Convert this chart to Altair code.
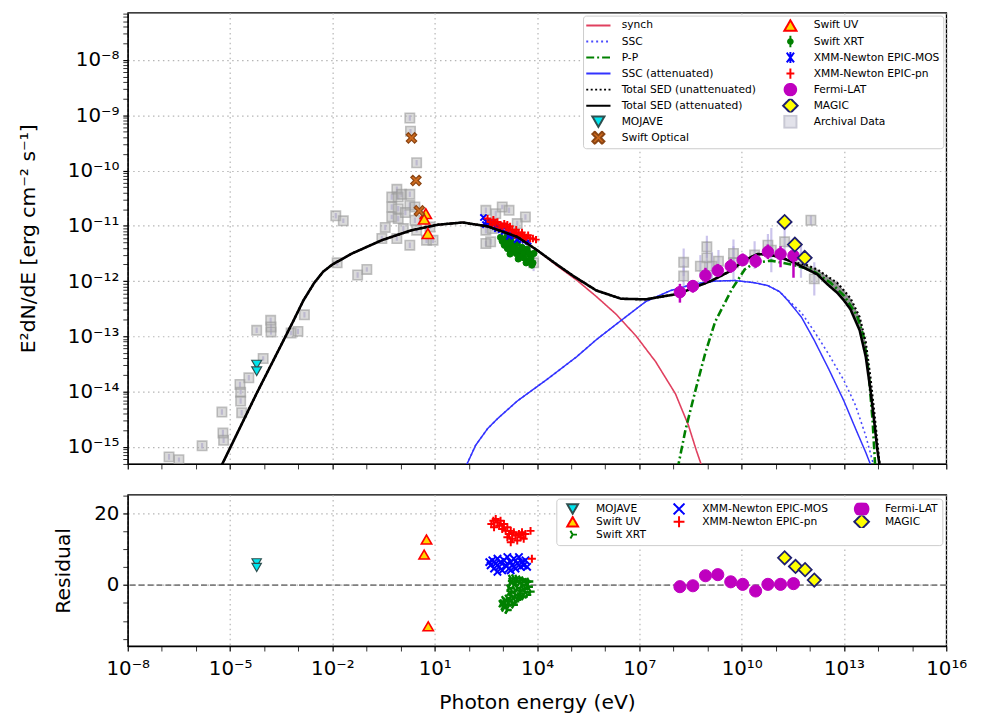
import json
import numpy as np
import pandas as pd
import altair as alt

# ---------------- model curves: log10(E / eV), log10(E^2 dN/dE / erg cm^-2 s^-1) ----------------
synch_logE = [-5.30, -4.22, -3.16, -2.85, -2.53, -2.27, -2.00, -1.42, -0.55, 0.32, 1.10, 1.82, 2.55, 3.42,
              4.00, 4.58, 5.16, 5.74, 6.32, 6.90, 7.48, 8.06, 8.44, 8.67, 8.86]
synch_logF = [-15.40, -14.03, -12.74, -12.35, -12.03, -11.83, -11.70, -11.50, -11.26, -11.08, -10.98,
              -10.94, -11.01, -11.20, -11.44, -11.72, -11.98, -12.28, -12.60, -12.99, -13.46, -14.04,
              -14.61, -15.06, -15.40]

ssc_logE = [1.88, 2.20, 2.55, 2.84, 3.42, 4.29, 5.16, 5.74, 6.47, 7.19, 7.92, 8.64, 9.22, 9.80, 10.38,
            10.76, 11.11, 11.34, 11.75, 12.12, 12.56, 13.00, 13.34, 13.64, 13.90]
ssc_logF = [-15.40, -14.97, -14.67, -14.49, -14.17, -13.78, -13.37, -13.06, -12.71, -12.37, -12.17,
            -12.05, -12.00, -11.99, -12.03, -12.08, -12.19, -12.33, -12.57, -12.90, -13.33, -13.80,
            -14.25, -14.80, -15.40]

ssc_att_logE = [1.88, 2.20, 2.55, 2.84, 3.42, 4.29, 5.16, 5.74, 6.47, 7.19, 7.92, 8.64, 9.22, 9.80,
                10.38, 10.76, 11.11, 11.34, 11.75, 12.12, 12.56, 13.00, 13.34, 13.64, 13.83]
ssc_att_logF = [-15.40, -14.97, -14.67, -14.49, -14.17, -13.78, -13.37, -13.06, -12.71, -12.37, -12.17,
                -12.05, -12.00, -11.99, -12.03, -12.08, -12.19, -12.34, -12.65, -13.06, -13.60, -14.17,
                -14.67, -15.10, -15.40]

pp_logE = [8.12, 8.35, 8.64, 8.93, 9.22, 9.71, 10.09, 10.38, 10.87, 11.45, 12.03, 12.61, 13.00, 13.38,
           13.58, 13.72, 13.84, 13.92]
pp_logF = [-15.40, -14.70, -13.99, -13.31, -12.74, -12.15, -11.79, -11.67, -11.63, -11.70, -11.79,
           -12.03, -12.26, -12.62, -13.01, -13.63, -14.53, -15.40]

tot_att_logE = [-5.30, -4.22, -3.16, -2.85, -2.53, -2.27, -2.00, -1.42, -0.55, 0.32, 1.10, 1.82, 2.55,
                3.42, 4.00, 4.58, 5.07, 5.74, 6.47, 7.19, 8.15, 9.13, 9.66, 10.09, 10.47, 10.87, 11.26,
                11.55, 11.90, 12.22, 12.50, 12.80, 13.00, 13.19, 13.46, 13.64, 13.78, 13.90, 13.98, 14.06]
tot_att_logF = [-15.40, -14.03, -12.74, -12.35, -12.03, -11.83, -11.70, -11.50, -11.26, -11.08, -10.98,
                -10.94, -11.01, -11.20, -11.44, -11.70, -11.91, -12.17, -12.32, -12.33, -12.23, -11.99,
                -11.82, -11.62, -11.51, -11.53, -11.60, -11.67, -11.78, -11.88, -12.05, -12.21, -12.35,
                -12.51, -12.89, -13.37, -13.99, -14.61, -15.06, -15.40]

tot_unatt_logE = [-5.30, -4.22, -3.16, -2.85, -2.53, -2.27, -2.00, -1.42, -0.55, 0.32, 1.10, 1.82, 2.55,
                  3.42, 4.00, 4.58, 5.07, 5.74, 6.47, 7.19, 8.15, 9.13, 9.66, 10.09, 10.47, 10.87, 11.26,
                  11.55, 11.90, 12.22, 12.50, 12.80, 13.00, 13.19, 13.46, 13.64, 13.78, 13.90, 14.06]
tot_unatt_logF = [-15.40, -14.03, -12.74, -12.35, -12.03, -11.83, -11.70, -11.50, -11.26, -11.08, -10.98,
                  -10.94, -11.01, -11.20, -11.44, -11.70, -11.91, -12.17, -12.32, -12.33, -12.23, -11.99,
                  -11.82, -11.62, -11.51, -11.53, -11.59, -11.66, -11.71, -11.79, -11.91, -12.03, -12.17,
                  -12.31, -12.65, -13.11, -13.76, -14.44, -15.40]

fill_logE = [11.26, 11.55, 11.90, 12.22, 12.50, 12.80, 13.00, 13.19, 13.46, 13.64, 13.78, 13.90, 14.06]
fill_lo = [-11.60, -11.67, -11.78, -11.88, -12.05, -12.21, -12.35, -12.51, -12.89, -13.37, -13.99, -14.61, -15.40]
fill_hi = [-11.59, -11.66, -11.71, -11.79, -11.91, -12.03, -12.17, -12.31, -12.65, -13.11, -13.76, -14.44, -15.40]

# ---------------- observed SED points ----------------
mojave_logE = [-4.22, -4.22]
mojave_logF = [-13.51, -13.63]
optical_logE = [0.32, 0.45, 0.55]
optical_logF = [-9.41, -10.18, -10.73]
uv_logE = [0.74, 0.69, 0.80]
uv_logF = [-10.78, -10.88, -11.14]
fermi_logE = [8.19, 8.57, 8.94, 9.30, 9.68, 10.03, 10.41, 10.77, 11.14, 11.52]
fermi_logF = [-12.20, -12.09, -11.90, -11.81, -11.73, -11.62, -11.64, -11.47, -11.51, -11.54]
fermi_lo = [-12.39, -12.21, -12.03, -11.92, -11.85, -11.73, -11.76, -11.60, -11.75, -11.94]
fermi_hi = [-12.05, -11.98, -11.76, -11.69, -11.60, -11.50, -11.51, -11.34, -11.37, -11.37]
magic_logE = [11.26, 11.56, 11.85]
magic_logF = [-10.93, -11.34, -11.58]

xrt_logE = [2.93, 2.98, 3.04, 3.10, 3.13, 3.19, 3.24, 3.27, 3.33, 3.39, 3.42, 3.48, 3.53, 3.56, 3.62,
            3.65, 3.71, 3.74, 3.80, 3.82, 3.88, 3.91, 3.01, 3.19, 3.36, 3.59, 3.77, 3.07, 3.30, 3.51,
            3.68, 3.45, 3.85, 3.21, 3.13, 3.36]
xrt_logF = [-11.21, -11.28, -11.35, -11.25, -11.41, -11.32, -11.28, -11.46, -11.37, -11.50, -11.32,
            -11.44, -11.53, -11.39, -11.58, -11.48, -11.42, -11.64, -11.53, -11.58, -11.67, -11.50,
            -11.25, -11.42, -11.42, -11.50, -11.50, -11.32, -11.39, -11.57, -11.67, -11.60, -11.71,
            -11.51, -11.16, -11.18]
pn_logE = [2.55, 2.63, 2.72, 2.78, 2.84, 2.93, 2.98, 3.04, 3.10, 3.16, 3.21, 3.27, 3.33, 3.39, 3.45,
           3.51, 3.56, 3.62, 3.68, 3.74, 3.80, 3.88, 3.97, 2.69, 2.90, 3.13, 3.36, 3.59]
pn_logF = [-10.87, -10.93, -10.89, -10.96, -10.93, -10.98, -11.01, -10.96, -11.03, -11.07, -11.01,
           -11.09, -11.12, -11.07, -11.14, -11.17, -11.12, -11.19, -11.21, -11.17, -11.23, -11.23,
           -11.25, -10.98, -11.03, -10.98, -11.17, -11.23]
mos_logE = [2.43, 2.52, 2.61, 2.69, 2.78, 2.87, 2.95, 3.04, 3.13, 3.21, 3.30, 3.39, 3.48, 3.56, 3.65,
            3.74, 2.49, 2.84, 3.19, 3.42]
mos_logF = [-10.85, -10.93, -10.96, -10.94, -11.01, -11.00, -11.07, -11.10, -11.09, -11.14, -11.17,
            -11.16, -11.21, -11.25, -11.26, -11.28, -10.98, -11.05, -11.19, -11.25]

arch_logE = [-6.79, -6.50, -5.82, -5.24, -5.21, -5.19, -4.71, -4.69, -4.69, -4.66, -4.45, -4.03, -4.22,
             -3.81, -3.80, -3.80, -3.21, -3.01, -2.82,
             -1.90, -1.68, -1.86, -1.26, -0.99, -0.55, -0.45, -0.26, -0.26, -0.26, -0.11, -0.07, -0.07,
             -0.07, -0.11, 0.03, 0.27, 0.29, 0.47, 0.27, 0.27, 0.42, 0.42, 0.27, 0.47, 0.76, 0.95, 0.86,
             0.14, 0.08,
             2.50, 2.79, 2.98, 3.18, 3.66, 2.50, 2.50, 2.64, 3.90, 3.42, 2.69,
             8.30, 8.30, 8.98, 8.98, 8.79, 9.13, 9.32, 9.76, 9.76, 10.77, 10.87, 11.26, 12.03, 12.13,
             11.74, 10.38]
arch_logF = [-15.18, -15.23, -14.98, -14.37, -14.75, -14.88, -13.87, -14.01, -14.17, -14.38, -13.75,
             -13.40, -12.89, -12.71, -12.83, -12.92, -12.94, -12.91, -12.61,
             -10.82, -10.91, -11.67, -11.89, -11.79, -11.23, -11.03, -10.84, -10.66, -10.48, -10.34,
             -10.48, -10.69, -10.87, -11.23, -10.43, -9.05, -9.29, -9.86, -10.43, -10.63, -10.66,
             -10.90, -11.35, -11.08, -11.26, -11.26, -11.02, -10.76, -11.05,
             -10.72, -10.78, -10.66, -10.72, -10.84, -11.08, -11.32, -11.29, -11.67, -10.96, -11.05,
             -11.66, -11.91, -11.38, -11.58, -11.73, -11.73, -11.64, -11.50, -11.67, -11.35, -11.44,
             -11.29, -10.90, -11.96, -11.64, -11.53]
arch_err = [0.05, 0.04, 0.05, 0.05, 0.06, 0.05, 0.05, 0.04, 0.05, 0.05, 0.05, 0.04, 0.05, 0.05, 0.06,
            0.05, 0.04, 0.05, 0.05,
            0.05, 0.04, 0.05, 0.05, 0.04, 0.05, 0.05, 0.04, 0.05, 0.05, 0.05, 0.04, 0.05, 0.05, 0.04,
            0.05, 0.05, 0.04, 0.05, 0.05, 0.05, 0.04, 0.05, 0.05, 0.04, 0.05, 0.05, 0.04, 0.05, 0.05,
            0.05, 0.05, 0.04, 0.05, 0.05, 0.06, 0.05, 0.05, 0.15, 0.05, 0.05,
            0.25, 0.20, 0.20, 0.30, 0.20, 0.25, 0.20, 0.25, 0.30, 0.20, 0.40, 0.35, 0.08, 0.30, 0.30, 0.25]

# ---------------- residuals ----------------
res_mojave_logE = [-4.22, -4.22]
res_mojave = [6.2, 4.9]
res_uv_logE = [0.76, 0.69, 0.81]
res_uv = [12.7, 8.5, -11.5]
res_pn_logE = [2.66, 2.72, 2.79, 2.84, 2.89, 2.74, 2.93, 2.98, 3.03, 3.08, 3.13, 3.18, 3.23, 3.27, 3.32,
               3.37, 3.42, 3.47, 3.52, 3.56, 3.61, 3.23, 3.13, 3.66, 3.81, 3.85]
res_pn = [17.0, 17.9, 18.4, 17.4, 16.5, 16.1, 17.9, 15.6, 17.0, 15.1, 16.1, 14.2, 15.1, 12.9, 14.7,
          13.8, 12.4, 14.2, 13.3, 14.7, 12.9, 11.9, 13.3, 14.2, 15.1, 7.35]
res_mos_logE = [2.60, 2.64, 2.69, 2.74, 2.79, 2.84, 2.89, 2.93, 2.98, 3.03, 3.08, 3.13, 3.18, 3.23, 3.27,
                3.32, 3.37, 3.42, 3.47, 3.52, 3.56, 3.61, 3.66, 3.71, 2.84, 3.23]
res_mos = [6.4, 5.5, 6.9, 4.6, 6.0, 7.35, 5.1, 6.4, 4.1, 6.9, 5.5, 7.8, 4.6, 6.4, 5.5, 7.35, 4.6, 6.0,
           7.8, 5.1, 6.4, 5.5, 6.9, 5.1, 3.7, 4.1]
res_xrt_logE = [3.23, 3.32, 3.42, 3.52, 3.61, 3.71, 3.76, 3.81, 3.71, 3.61, 3.52, 3.42, 3.32, 3.23, 3.18,
                3.27, 3.37, 3.47, 3.23, 3.13, 3.03, 2.98, 3.08, 3.18, 3.27, 3.03, 3.13, 3.32, 3.42, 3.66,
                3.56, 3.47, 3.37,
                3.24, 3.42, 3.59, 3.71, 3.53, 3.36, 3.19, 3.65, 3.48, 3.30, 3.07, 3.19, 3.01, 3.13, 3.36,
                2.95, 3.59, 3.77]
res_xrt = [1.84, 2.0, 1.84, 1.65, 1.38, 0.92, -0.46, -1.84, -2.75, -3.2, -2.3, -0.9, 0.0, 0.46, -0.9,
           -1.84, -2.75, -3.66, -3.2, -3.66, -4.1, -5.0, -5.5, -4.6, -5.0, -6.4, -6.9, -5.5, -4.1, -0.9,
           0.0, 0.46, 0.92,
           1.0, 1.2, 0.8, -0.5, -1.5, -1.5, -2.0, -2.0, -3.0, -3.5, -4.5, -5.5, -6.0, -7.0, -4.5,
           -5.2, -1.0, 1.0]
res_fermi_logE = [8.19, 8.57, 8.94, 9.30, 9.68, 10.03, 10.41, 10.77, 11.14, 11.52]
res_fermi = [-0.45, -0.2, 2.6, 2.9, 0.9, 0.2, -1.65, 0.2, 0.2, 0.4]
res_magic_logE = [11.26, 11.58, 11.86, 12.13]
res_magic = [7.6, 5.2, 4.3, 1.4]

# ---------------- helpers ----------------
FONT = "DejaVu Sans"
SUP = str.maketrans("-0123456789", "\u207b\u2070\u00b9\u00b2\u00b3\u2074\u2075\u2076\u2077\u2078\u2079")


def pow_label(e):
    return "10" + str(e).translate(SUP)


EXP = "round(log(datum.value)/LN10)"
LAB_FS = 20

x_exps = list(range(-8, 17))
x_vals = [10.0 ** e for e in x_exps]
x_labels = [pow_label(e) if (e + 8) % 3 == 0 else "" for e in x_exps]
x_major = f"({EXP}+8) % 3 == 0"
x_label_expr = f"{json.dumps(x_labels, ensure_ascii=False)}[{EXP}+8]"

Y_MIN, Y_MAX = 10 ** -15.308, 10 ** -7.144
y_exps = list(range(-16, -6))
y_vals = [m * 10.0 ** e for e in y_exps for m in range(1, 10) if Y_MIN <= m * 10.0 ** e <= Y_MAX]
y_labels = [pow_label(e) for e in y_exps]
y_major = f"abs(log(datum.value)/LN10 - {EXP}) < 0.001"
y_label_expr = f"{y_major} ? {json.dumps(y_labels, ensure_ascii=False)}[{EXP}+16] : ''"

XS = alt.Scale(type="log", domain=[1e-8, 1e16], nice=False)
YS_TOP = alt.Scale(type="log", domain=[Y_MIN, Y_MAX], nice=False)
YS_BOT = alt.Scale(domain=[-17.0, 25.2], nice=False, zero=False)


def cond(test, a, b):
    return {"condition": {"test": test, "value": a}, "value": b}


X_AXIS_TOP = alt.Axis(values=x_vals, labels=False, title=None,
                      gridOpacity=cond(x_major, 1, 0), tickWidth=cond(x_major, 1.2, 0.8))
X_AXIS_BOT = alt.Axis(values=x_vals, labelExpr=x_label_expr, title="Photon energy (eV)",
                      labelFlush=False, labelOverlap=False, labelPadding=8, titlePadding=14,
                      labelFontSize=cond(x_major, LAB_FS, 0),
                      gridOpacity=cond(x_major, 1, 0), tickWidth=cond(x_major, 1.2, 0.8))
Y_AXIS_TOP = alt.Axis(values=y_vals, labelExpr=y_label_expr, labelOverlap=False, labelFlush=False,
                      title="E\u00b2dN/dE [erg cm\u207b\u00b2 s\u207b\u00b9]", titlePadding=29,
                      labelFontSize=cond(y_major, LAB_FS, 0),
                      gridOpacity=cond(y_major, 1, 0), tickWidth=cond(y_major, 1.2, 0.8))
b_major = "datum.value == 0 || datum.value == 20"
Y_AXIS_BOT = alt.Axis(values=[-15, -10, -5, 0, 5, 10, 15, 20, 25],
                      labelExpr=f"{b_major} ? datum.label : ''", labelOverlap=False, labelFlush=False,
                      title="Residual", titlePadding=20,
                      labelFontSize=cond(b_major, LAB_FS, 0),
                      gridOpacity=cond(b_major, 1, 0), tickWidth=cond(b_major, 1.2, 0.8))

# marker paths (unit box [-1, 1])
LINE = "M-2,0L2,0"
X_PATH = "M-1,-1L1,1M-1,1L1,-1"
PLUS_PATH = "M-1,0L1,0M0,-1L0,1"
TRI_RIGHT = "M0,0L1,0M0,0L-0.5,-0.866M0,0L-0.5,0.866"
XFILL = "M-1,-0.6L-0.6,-1L0,-0.4L0.6,-1L1,-0.6L0.4,0L1,0.6L0.6,1L0,0.4L-0.6,1L-1,0.6L-0.4,0Z"
XRT_LEG = "M0,-0.95L0,0.95M-0.38,0A0.38,0.38,0,1,1,0.38,0A0.38,0.38,0,1,1,-0.38,0Z"
MOS_LEG = "M-0.6,-0.8L0.6,0.8M-0.6,0.8L0.6,-0.8M0,-0.9L0,0.9"
PN_LEG = "M-0.65,0L0.65,0M0,-0.85L0,0.85"
CIRC_T = "M-0.95,0A0.95,0.95,0,1,1,0.95,0A0.95,0.95,0,1,1,-0.95,0Z"
DIAM_T = "M0,-1.2L1.2,0L0,1.2L-1.2,0Z"
CIRC_B = "M-1.25,0A1.25,1.25,0,1,1,1.25,0A1.25,1.25,0,1,1,-1.25,0Z"
DIAM_B = "M0,-1.35L1.35,0L0,1.35L-1.35,0Z"
TRI_B = "M0,0L0.8,0M0,0L-0.4,-0.7M0,0L-0.4,0.7"
SOLID = [1, 0]

# ---------------- legend definitions ----------------
# top legend: entries in their column-wise reading order (2 columns, 8 rows)
TOP_ORDER = ["synch", "SSC", "P-P", "SSC (attenuated)", "Total SED (unattenuated)", "Total SED (attenuated)",
             "MOJAVE", "Swift Optical", "Swift UV", "Swift XRT", "XMM-Newton EPIC-MOS", "XMM-Newton EPIC-pn",
             "Fermi-LAT", "MAGIC", "Archival Data"]
TOP_STROKE = ["#E0405F", "#4A4AFF", "#008000", "#3333FF", "#000000", "#000000", "#2F4F4F", "#8B4513",
              "#FF0000", "#008000", "#0000FF", "#FF0000", "#BF00BF", "#1F1F6F", "#C8C8D4"]
TOP_FILL = ["transparent", "transparent", "transparent", "transparent", "transparent", "transparent",
            "#00E5EE", "#CD6A1E", "#FFD700", "#008000", "transparent", "transparent", "#BF00BF",
            "#FFFF00", "#E2E2EA"]
TOP_SHAPE = [LINE, LINE, LINE, LINE, LINE, LINE, "triangle-down", XFILL, "triangle-up", XRT_LEG, MOS_LEG,
             PN_LEG, CIRC_T, DIAM_T, "square"]
TOP_DASH = [SOLID, [2, 3], [8, 3, 2, 3], SOLID, [2, 2.5], SOLID, SOLID, SOLID, SOLID, SOLID, SOLID, SOLID,
            SOLID, SOLID, SOLID]

# bottom legend: order chosen so that the 3-column legend reads
# MOJAVE | XMM-MOS | Fermi-LAT / Swift UV | XMM-pn | MAGIC / Swift XRT
BOT_ORDER = ["MOJAVE", "Swift UV", "MAGIC", "XMM-Newton EPIC-MOS", "XMM-Newton EPIC-pn", "Swift XRT",
             "Fermi-LAT"]
BOT_STROKE = ["#2F4F4F", "#FF0000", "#1F1F6F", "#0000FF", "#FF0000", "#008000", "#BF00BF"]
BOT_FILL = ["#00E5EE", "#FFD700", "#FFFF00", "transparent", "transparent", "transparent", "#BF00BF"]
BOT_SHAPE = ["triangle-down", "triangle-up", DIAM_B, X_PATH, PLUS_PATH, TRI_B, CIRC_B]
BOT_DASH = [SOLID, SOLID, SOLID, SOLID, SOLID, SOLID, SOLID]


def legend_def(columns, size, clip_h, row_pad, col_pad, sym_off, lab_off, offset, padding):
    return alt.Legend(
        title=None, orient="top-right", offset=offset, columns=columns, padding=padding,
        fillColor="white", strokeColor="#cccccc", cornerRadius=3,
        labelFont=FONT, labelFontSize=10.8, labelColor="black", labelLimit=400, labelOffset=lab_off,
        symbolSize=size, symbolOffset=sym_off, symbolStrokeWidth=2, symbolFillColor="transparent",
        symbolOpacity=1, clipHeight=clip_h, rowPadding=row_pad, columnPadding=col_pad)


TOP_LEGEND = legend_def(2, 150, 14, 2.2, 22, 5, 16, 3, 3)
BOT_LEGEND = legend_def(3, 120, 12.8, 0, 20.5, 6, 17, 4, 4)


def frame(logE, vals, series, logvals=True, **extra):
    d = {"E": np.power(10.0, np.array(logE, dtype=float)),
         "V": np.power(10.0, np.array(vals, dtype=float)) if logvals else np.array(vals, dtype=float),
         "series": series}
    for k, v in extra.items():
        d[k] = np.power(10.0, np.array(v, dtype=float))
    return pd.DataFrame(d)


def enc_set(order, stroke, fill, shape, dash, legend):
    def s(channel):
        rng = {"stroke": stroke, "fill": fill, "shape": shape, "strokeDash": dash}[channel]
        cls = {"stroke": alt.Stroke, "fill": alt.Fill, "shape": alt.Shape, "strokeDash": alt.StrokeDash}[channel]
        return cls("series:N", scale=alt.Scale(domain=order, range=rng), legend=legend)
    return s


top_ch = enc_set(TOP_ORDER, TOP_STROKE, TOP_FILL, TOP_SHAPE, TOP_DASH, TOP_LEGEND)
bot_ch = enc_set(BOT_ORDER, BOT_STROKE, BOT_FILL, BOT_SHAPE, BOT_DASH, BOT_LEGEND)


def xt():
    return alt.X("E:Q", scale=XS, axis=X_AXIS_TOP)


def yt(field="V"):
    return alt.Y(f"{field}:Q", scale=YS_TOP, axis=Y_AXIS_TOP)


def xb():
    return alt.X("E:Q", scale=XS, axis=X_AXIS_BOT)


def yb(field="V"):
    return alt.Y(f"{field}:Q", scale=YS_BOT, axis=Y_AXIS_BOT)


# ---------------- top panel ----------------
magic_df = frame(magic_logE, magic_logF, "MAGIC")
# legend-carrying layer (draws no marks itself)
top_key = alt.Chart(magic_df).transform_filter("false").mark_point(filled=True, clip=True).encode(
    x=xt(), y=yt(), stroke=top_ch("stroke"), fill=top_ch("fill"), shape=top_ch("shape"),
    strokeDash=top_ch("strokeDash"))

arch_df = frame(arch_logE, arch_logF, "Archival Data",
                lo=[f - e for f, e in zip(arch_logF, arch_err)],
                hi=[f + e for f, e in zip(arch_logF, arch_err)])
arch_err_layer = alt.Chart(arch_df).mark_rule(color="#A89CE0", opacity=0.6, strokeWidth=2.2, clip=True).encode(
    x=xt(), y=yt("lo"), y2="hi")
arch_pts = alt.Chart(arch_df).mark_point(shape="square", filled=True, fill="#ADADAD", fillOpacity=0.45,
                                         stroke="#9A9A9A", strokeOpacity=0.6, strokeWidth=1.6, size=90,
                                         opacity=1, clip=True).encode(x=xt(), y=yt())

fill_df = frame(fill_logE, fill_lo, "fill", hi=fill_hi)
fill_layer = alt.Chart(fill_df).mark_area(color="#7F7F7F", opacity=0.85, clip=True).encode(
    x=xt(), y=yt("V"), y2="hi")

xrt_pts = alt.Chart(frame(xrt_logE, xrt_logF, "Swift XRT")).mark_point(
    shape="circle", filled=True, size=40, strokeWidth=1, opacity=1, clip=True).encode(
    x=xt(), y=yt(), stroke=top_ch("stroke"), fill=top_ch("fill"))
mos_pts = alt.Chart(frame(mos_logE, mos_logF, "XMM-Newton EPIC-MOS")).mark_point(
    shape=X_PATH, filled=False, size=40, strokeWidth=2, opacity=1, clip=True).encode(
    x=xt(), y=yt(), stroke=top_ch("stroke"))
pn_pts = alt.Chart(frame(pn_logE, pn_logF, "XMM-Newton EPIC-pn")).mark_point(
    shape=PLUS_PATH, filled=False, size=55, strokeWidth=2, opacity=1, clip=True).encode(
    x=xt(), y=yt(), stroke=top_ch("stroke"))


def line(logE, logF, series, width):
    return alt.Chart(frame(logE, logF, series)).mark_line(strokeWidth=width, clip=True).encode(
        x=xt(), y=yt(), stroke=top_ch("stroke"), strokeDash=top_ch("strokeDash"))


synch_l = line(synch_logE, synch_logF, "synch", 1.6)
ssc_l = line(ssc_logE, ssc_logF, "SSC", 1.6)
pp_l = line(pp_logE, pp_logF, "P-P", 2.6)
ssc_att_l = line(ssc_att_logE, ssc_att_logF, "SSC (attenuated)", 1.5)
tot_un_l = line(tot_unatt_logE, tot_unatt_logF, "Total SED (unattenuated)", 2.2)
tot_att_l = line(tot_att_logE, tot_att_logF, "Total SED (attenuated)", 2.6)

fermi_df = frame(fermi_logE, fermi_logF, "Fermi-LAT", lo=fermi_lo, hi=fermi_hi)
fermi_err = alt.Chart(fermi_df).mark_rule(color="#BF00BF", strokeWidth=2.5, clip=True).encode(
    x=xt(), y=yt("lo"), y2="hi")


def pts(df, shape, size, width):
    return alt.Chart(df).mark_point(shape=shape, filled=True, size=size, strokeWidth=width, opacity=1,
                                    clip=True).encode(x=xt(), y=yt(), stroke=top_ch("stroke"),
                                                      fill=top_ch("fill"))


fermi_pts = pts(fermi_df, "circle", 135, 1)
magic_pts = pts(magic_df, "diamond", 200, 1.8)
uv_pts = pts(frame(uv_logE, uv_logF, "Swift UV"), "triangle-up", 130, 1.6)
opt_pts = pts(frame(optical_logE, optical_logF, "Swift Optical"), XFILL, 110, 1.2)
moj_pts = pts(frame(mojave_logE, mojave_logF, "MOJAVE"), "triangle-down", 100, 1.2)

top = alt.layer(top_key, arch_err_layer, arch_pts, fill_layer, xrt_pts, mos_pts, pn_pts,
                synch_l, ssc_l, pp_l, ssc_att_l, tot_un_l, tot_att_l,
                fermi_err, fermi_pts, magic_pts, uv_pts, opt_pts, moj_pts).properties(width=827, height=456)

# ---------------- residual panel ----------------
bot_key = alt.Chart(frame(res_magic_logE, res_magic, "MAGIC", logvals=False)).transform_filter(
    "false").mark_point(filled=True, clip=True).encode(
    x=xb(), y=yb(), stroke=bot_ch("stroke"), fill=bot_ch("fill"), shape=bot_ch("shape"),
    strokeDash=bot_ch("strokeDash"))

zero_df = pd.DataFrame({"V": [0.0]})
zero_rule = alt.Chart(zero_df).mark_rule(color="#808080", strokeDash=[6, 3], strokeWidth=1.7).encode(y=yb())


def rpts(logE, vals, series, filled, **mk):
    mk.setdefault("opacity", 1)
    mk.setdefault("clip", True)
    enc = dict(x=xb(), y=yb(), stroke=bot_ch("stroke"))
    if filled:
        enc["fill"] = bot_ch("fill")
    return alt.Chart(frame(logE, vals, series, logvals=False)).mark_point(filled=filled, **mk).encode(**enc)


r_xrt = rpts(res_xrt_logE, res_xrt, "Swift XRT", False, shape=TRI_RIGHT, size=70, strokeWidth=2.4)
r_mos = rpts(res_mos_logE, res_mos, "XMM-Newton EPIC-MOS", False, shape=X_PATH, size=55, strokeWidth=2)
r_pn = rpts(res_pn_logE, res_pn, "XMM-Newton EPIC-pn", False, shape=PLUS_PATH, size=65, strokeWidth=2)
r_moj = rpts(res_mojave_logE, res_mojave, "MOJAVE", True, shape="triangle-down", size=90, strokeWidth=1.2)
r_uv = rpts(res_uv_logE, res_uv, "Swift UV", True, shape="triangle-up", size=110, strokeWidth=1.6)
r_fermi = rpts(res_fermi_logE, res_fermi, "Fermi-LAT", True, shape="circle", size=150, strokeWidth=1)
r_magic = rpts(res_magic_logE, res_magic, "MAGIC", True, shape="diamond", size=180, strokeWidth=1.8)

bottom = alt.layer(bot_key, zero_rule, r_xrt, r_mos, r_pn, r_moj, r_uv, r_fermi, r_magic).properties(
    width=827, height=153)

chart = alt.vconcat(top, bottom, spacing=31, bounds="flush").resolve_scale(
    stroke="independent", fill="independent", shape="independent", strokeDash="independent"
).resolve_legend(
    stroke="independent", fill="independent", shape="independent", strokeDash="independent"
).properties(
    padding={"left": 10, "top": 0, "right": 5, "bottom": 0}, background="white"
).configure_axis(
    labelFont=FONT, titleFont=FONT, labelFontSize=LAB_FS, titleFontSize=20.5, titleFontWeight="normal",
    labelColor="black", titleColor="black", tickColor="black", domainColor="black", domainWidth=1.2,
    tickSize=5, labelPadding=4, gridColor="#b5b5b5", gridDash=[1.5, 3.5], gridWidth=1.2,
).configure_view(stroke="black", strokeWidth=1.3)

chart.save("out.html", embed_options={"renderer": "svg", "actions": False})
